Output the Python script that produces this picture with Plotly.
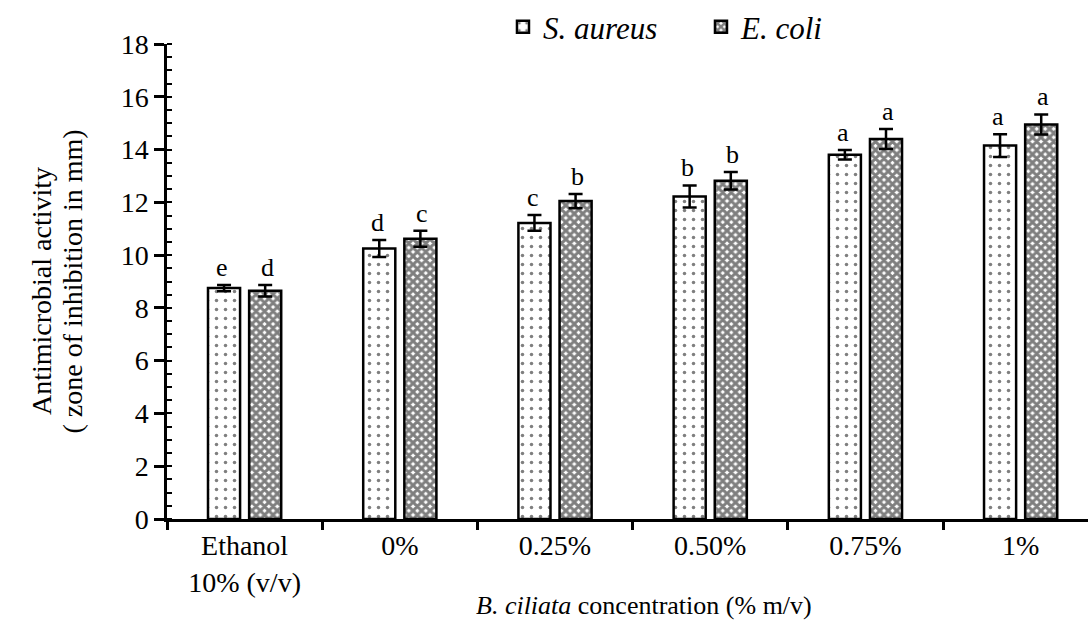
import plotly.graph_objects as go

# Treatments on the x axis
categories = ["Ethanol<br>10% (v/v)", "0%", "0.25%", "0.50%", "0.75%", "1%"]

# Mean zone of inhibition (mm) and standard deviation
s_aureus = [8.75, 10.25, 11.22, 12.22, 13.80, 14.15]
s_aureus_err = [0.12, 0.32, 0.30, 0.42, 0.18, 0.43]
e_coli = [8.65, 10.62, 12.05, 12.82, 14.40, 14.95]
e_coli_err = [0.22, 0.30, 0.27, 0.33, 0.38, 0.38]

# Significance letters
s_aureus_letters = ["e", "d", "c", "b", "a", "a"]
e_coli_letters = ["d", "c", "b", "b", "a", "a"]

FONT = "Liberation Serif"
TICK_SIZE = 28
TEXT_SIZE = 26

fig = go.Figure()

fig.add_trace(go.Bar(
    name="<i>S. aureus</i>",
    x=categories, y=s_aureus,
    error_y=dict(type="data", array=s_aureus_err, color="black", thickness=2.5, width=7),
    marker=dict(
        color="white",
        line=dict(color="black", width=2.5),
        pattern=dict(shape=".", fgcolor="black", bgcolor="white", size=9, solidity=0.12),
    ),
))

fig.add_trace(go.Bar(
    name="<i>E. coli</i>",
    x=categories, y=e_coli,
    error_y=dict(type="data", array=e_coli_err, color="black", thickness=2.5, width=7),
    marker=dict(
        color="white",
        line=dict(color="black", width=2.5),
        pattern=dict(shape="x", fgcolor="black", bgcolor="white", size=6, solidity=0.75),
    ),
))

annotations = []

# Letters above the error bars
for i, cat in enumerate(categories):
    annotations.append(dict(
        x=cat, y=s_aureus[i] + s_aureus_err[i], text=s_aureus_letters[i],
        xref="x", yref="y", showarrow=False, yanchor="bottom", xshift=-22.5, yshift=1,
        font=dict(family=FONT, size=TEXT_SIZE, color="black"),
    ))
    annotations.append(dict(
        x=cat, y=e_coli[i] + e_coli_err[i], text=e_coli_letters[i],
        xref="x", yref="y", showarrow=False, yanchor="bottom", xshift=22.5, yshift=1,
        font=dict(family=FONT, size=TEXT_SIZE, color="black"),
    ))

# Two-line y-axis title
annotations.append(dict(
    text="Antimicrobial activity", textangle=-90,
    xref="paper", yref="paper", x=0, y=0.48, xanchor="center", yanchor="middle",
    xshift=-126, showarrow=False, font=dict(family=FONT, size=28, color="black"),
))
annotations.append(dict(
    text="( zone of inhibition in mm)", textangle=-90,
    xref="paper", yref="paper", x=0, y=0.5, xanchor="center", yanchor="middle",
    xshift=-95, showarrow=False, font=dict(family=FONT, size=28, color="black"),
))

# x-axis title
annotations.append(dict(
    text="<i>B. ciliata</i> concentration (% m/v)",
    xref="paper", yref="paper", x=0, y=0, xanchor="center", yanchor="middle",
    xshift=644 - 167, yshift=-86, showarrow=False,
    font=dict(family=FONT, size=TEXT_SIZE, color="black"),
))

fig.update_layout(
    width=1088, height=639,
    margin=dict(l=167, r=0, t=41, b=120),
    paper_bgcolor="white", plot_bgcolor="white",
    font=dict(family=FONT, size=TICK_SIZE, color="black"),
    barmode="group", bargap=0.47, bargroupgap=0.22,
    showlegend=True,
    legend=dict(
        orientation="h", x=0.3648, y=1.0356, xanchor="left", yanchor="middle",
        font=dict(family=FONT, size=31, color="black"),
        entrywidth=153, entrywidthmode="pixels",
        bgcolor="rgba(0,0,0,0)",
    ),
    annotations=annotations,
)

fig.update_xaxes(
    range=[-0.5, 5.434],
    showline=True, linecolor="black", linewidth=2.5,
    ticks="outside", tickson="boundaries", ticklen=8, tickwidth=2.5, tickcolor="black",
    tickfont=dict(family=FONT, size=TICK_SIZE, color="black"),
    showgrid=False, zeroline=False,
)

fig.update_yaxes(
    range=[0, 18], dtick=2, tick0=0,
    showline=True, linecolor="black", linewidth=2.5,
    ticks="outside", ticklen=10, tickwidth=2.5, tickcolor="black",
    minor=dict(ticks="inside", dtick=0.5, ticklen=5, tickwidth=2, tickcolor="black", showgrid=False),
    tickfont=dict(family=FONT, size=TICK_SIZE, color="black"),
    showgrid=False, zeroline=False,
)

fig.write_html("out.html")
